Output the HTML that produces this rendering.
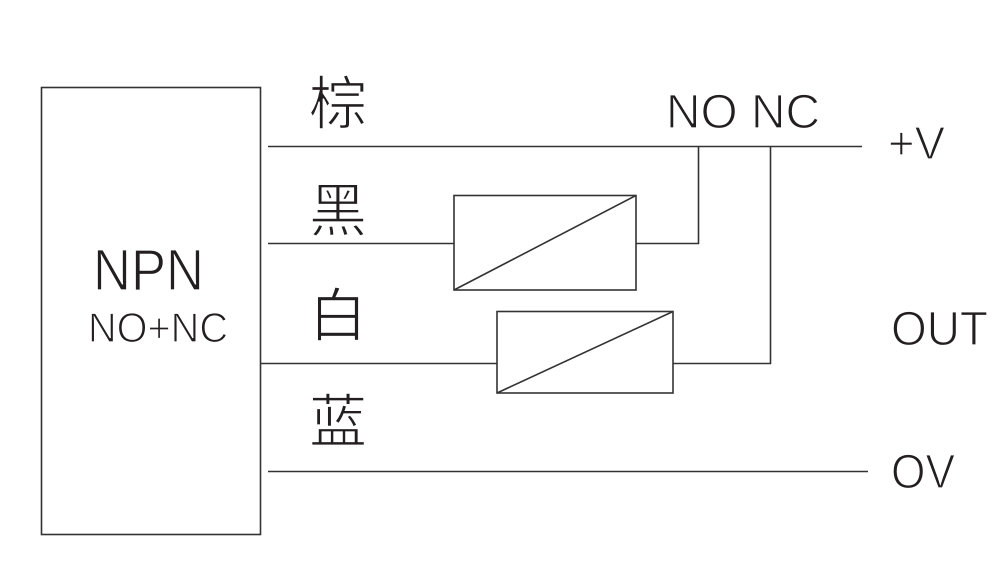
<!DOCTYPE html>
<html><head><meta charset="utf-8"><style>
html,body{margin:0;padding:0;background:#fff;}
svg{display:block;}
text{font-family:"Liberation Sans","Noto Sans CJK SC",sans-serif;fill:#231f20;stroke:#fff;stroke-width:1.2px;}
text.cjk{stroke-width:1.3px;}
</style></head><body>
<svg width="1007" height="569" viewBox="0 0 1007 569" xmlns="http://www.w3.org/2000/svg">
<g stroke="#333" stroke-width="1.6" fill="none">
<rect x="41.5" y="87.5" width="219" height="447"/>
<line x1="268" y1="146.5" x2="862" y2="146.5"/>
<line x1="268" y1="243.5" x2="454" y2="243.5"/>
<rect x="454" y="195.5" width="182" height="94.5"/>
<line x1="454" y1="290" x2="636" y2="195.5"/>
<polyline points="636,243.5 698.5,243.5 698.5,146.5"/>
<line x1="261" y1="363.5" x2="497" y2="363.5"/>
<rect x="497" y="311.5" width="176" height="81.5"/>
<line x1="497" y1="393" x2="673" y2="311.5"/>
<polyline points="673,363.5 770.5,363.5 770.5,146.5"/>
<line x1="268" y1="471.5" x2="868" y2="471.5"/>
</g>
<text x="93" y="290" font-size="58" textLength="111" lengthAdjust="spacingAndGlyphs">NPN</text>
<text x="88" y="342" font-size="42" textLength="140" lengthAdjust="spacingAndGlyphs">NO+NC</text>
<text class="cjk" x="309" y="124" font-size="58">棕</text>
<text class="cjk" x="309" y="231" font-size="58">黑</text>
<text class="cjk" x="309" y="336" font-size="58">白</text>
<text class="cjk" x="309" y="442" font-size="58">蓝</text>
<text x="666" y="128" font-size="48" textLength="154" lengthAdjust="spacingAndGlyphs">NO NC</text>
<text x="888" y="159" font-size="46" textLength="57" lengthAdjust="spacingAndGlyphs">+V</text>
<text x="891" y="345" font-size="48" textLength="97" lengthAdjust="spacingAndGlyphs">OUT</text>
<text x="891" y="488" font-size="48" textLength="64" lengthAdjust="spacingAndGlyphs">OV</text>
</svg>
</body></html>
